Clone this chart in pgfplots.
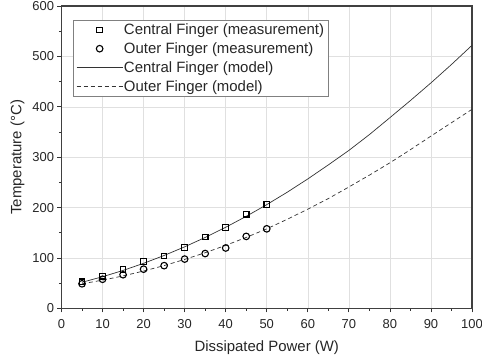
\documentclass[border=0pt]{standalone}
\usepackage{fontspec}
\setmainfont{Liberation Sans}
\usepackage{pgfplots}
\pgfplotsset{compat=1.18}
\begin{document}
\begin{tikzpicture}
\begin{axis}[
  name=main,
  scale only axis,
  width=410.5bp, height=302.5bp,
  xmin=0, xmax=100, ymin=0, ymax=600,
  xtick={0,10,...,100}, ytick={0,100,...,600},
  minor xtick={5,15,...,95}, minor ytick={50,150,...,550},
  tick align=outside,
  xtick pos=bottom, ytick pos=left,
  major tick length=4bp, minor tick length=2.5bp,
  every tick/.style={draw=black!80, line width=0.8bp},
  grid=major,
  major grid style={draw=black!12, line width=0.6bp},
  axis line style={draw=black!75, line width=1.2bp},
  /pgf/number format/assume math mode=true,
  ticklabel style={font=\fontsize{13}{15}\selectfont, text=black!85},
  xticklabel style={yshift=-3bp},
  yticklabel style={xshift=0bp},
  label style={font=\fontsize{15}{17}\selectfont, text=black!85},
  xlabel={Dissipated Power (W)},
  ylabel={Temperature (°C)},
  xlabel style={yshift=-6bp},
  ylabel style={yshift=1bp},
  legend cell align=left,
  legend style={at={(0.028,0.954)}, anchor=north west, draw=black!50, line width=0.6bp,
    font=\fontsize{15}{16}\selectfont, text=black!85, inner xsep=3bp, inner ysep=1.5bp,
    row sep=2.5bp, nodes={inner xsep=1bp, inner ysep=2bp}},
  legend image code/.code={\draw[mark repeat=2,mark phase=2,#1] plot coordinates {(0bp,0bp) (23bp,0bp) (46bp,0bp)};},
]
\addplot[only marks, mark=square, mark size=2.8bp, mark options={draw=black, line width=1.1bp}]
  coordinates {(5,53) (10,64) (15,77) (20,93) (25,104) (30,121) (35,142) (40,161) (45,187) (50,206)};
\addlegendentry{Central Finger (measurement)}
\addplot[only marks, mark=o, mark size=3.3bp, mark options={draw=black, line width=1.1bp}]
  coordinates {(5,49) (10,58) (15,67) (20,78) (25,85) (30,98) (35,109) (40,120) (45,143) (50,158)};
\addlegendentry{Outer Finger (measurement)}
\addplot[black!80, line width=0.7bp]
  coordinates {(5,52.0) (10,63.0) (15,75.5) (20,89.6) (25,105.2) (30,122.3) (35,140.9) (40,161.1) (45,182.8) (50,206.0) (55,230.7) (60,257.0) (65,284.8) (70,313.5) (75,344.9) (80,378.5) (85,412.5) (90,447.5) (95,484.0) (100,522.0)};
\addlegendentry{Central Finger (model)}
\addplot[black!80, line width=0.7bp, dash pattern=on 4bp off 3bp]
  coordinates {(5,49.0) (10,56.2) (15,64.6) (20,74.3) (25,85.1) (30,97.3) (35,110.6) (40,125.2) (45,141.0) (50,158.0) (55,177.0) (60,197.0) (65,218.0) (70,241.0) (75,264.5) (80,289.0) (85,315.0) (90,342.0) (95,368.5) (100,395.0)};
\addlegendentry{Outer Finger (model)}
\end{axis}
\pgfresetboundingbox
\path ([xshift=-61.5bp,yshift=-53.5bp]main.south west) rectangle ([xshift=10bp,yshift=6bp]main.north east);
\end{tikzpicture}
\end{document}
